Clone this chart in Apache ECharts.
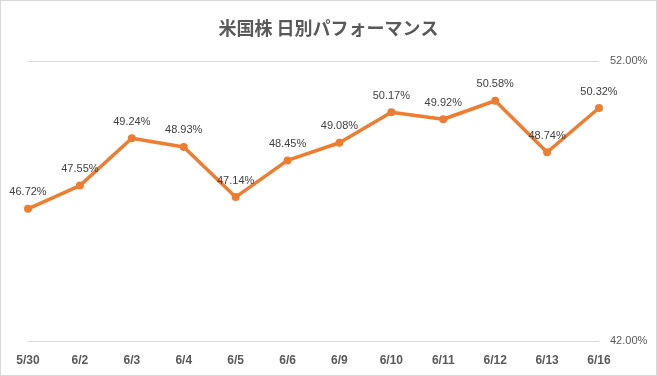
<!DOCTYPE html>
<html>
<head>
<meta charset="utf-8">
<script src="https://cdn.jsdelivr.net/npm/echarts@6/dist/echarts.min.js"></script>
<style>
  html, body { margin: 0; padding: 0; background: #fff; }
  #main { position: absolute; left: 0; top: 0; width: 655px; height: 374px; border: 1px solid #d9d9d9; }
</style>
</head>
<body>
<div id="main"></div>
<script>
// 日付
var days = ['5/30', '6/2', '6/3', '6/4', '6/5', '6/6', '6/9', '6/10', '6/11', '6/12', '6/13', '6/16'];
// パフォーマンス(%)
var perf = [46.72, 47.55, 49.24, 48.93, 47.14, 48.45, 49.08, 50.17, 49.92, 50.58, 48.74, 50.32];
var yMin = 42, yMax = 52;

var myChart = echarts.init(document.getElementById('main'));
var option = {
    animation: false,
    title: {
        text: '米国株 日別パフォーマンス',
        left: 'center',
        top: 13,
        textStyle: {
            fontFamily: 'Noto Sans CJK JP',
            fontSize: 18,
            fontWeight: 'bold',
            color: '#595959'
        }
    },
    grid: { left: 27, right: 57, top: 60, bottom: 34 },
    xAxis: {
        type: 'category',
        data: days,
        boundaryGap: false,
        axisLine: { show: true, lineStyle: { color: '#d9d9d9' } },
        axisTick: { show: false },
        axisLabel: {
            margin: 14,
            color: '#595959',
            fontWeight: 'bold',
            fontSize: 12,
            fontFamily: 'Liberation Sans'
        }
    },
    yAxis: {
        type: 'value',
        position: 'right',
        min: yMin,
        max: yMax,
        interval: 10,
        axisLine: { show: false },
        axisTick: { show: false },
        splitLine: { lineStyle: { color: '#d9d9d9' } },
        axisLabel: {
            margin: 11,
            color: '#595959',
            fontSize: 11,
            fontFamily: 'Liberation Sans',
            formatter: function (v) { return v.toFixed(2) + '%'; }
        }
    },
    series: [{
        type: 'line',
        data: perf,
        symbol: 'circle',
        symbolSize: 8,
        lineStyle: { color: '#ed7d31', width: 3.5 },
        itemStyle: { color: '#ed7d31' },
        label: {
            show: true,
            position: 'top',
            distance: 7,
            color: '#404040',
            fontSize: 11,
            fontFamily: 'Liberation Sans',
            formatter: function (p) { return p.value.toFixed(2) + '%'; }
        }
    }]
};
myChart.setOption(option);
</script>
</body>
</html>
